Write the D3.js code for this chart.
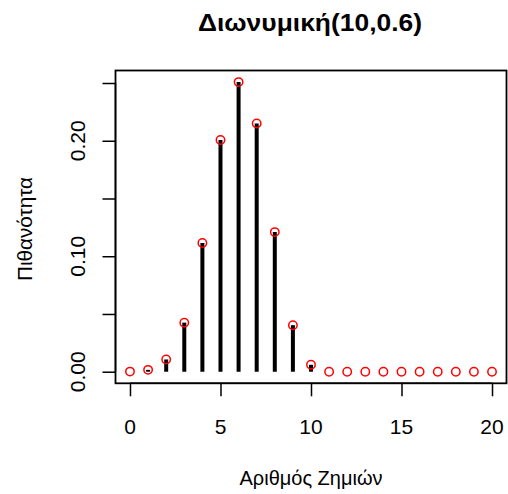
<!DOCTYPE html>
<html>
<head>
<meta charset="utf-8">
<script src="https://cdn.jsdelivr.net/npm/d3@7"></script>
<style>
  body { margin: 0; background: #fff; }
  svg text { font-family: "Liberation Sans", Arial, sans-serif; }
</style>
</head>
<body>
<div id="chart"></div>
<script>
// Number of losses 0..20 and binomial(10, 0.6) probabilities
const losses = d3.range(0, 21);
const probs = [0.0001, 0.0016, 0.0106, 0.0425, 0.1115, 0.2007, 0.2508, 0.2150, 0.1209, 0.0403, 0.0060,
  0, 0, 0, 0, 0, 0, 0, 0, 0, 0];
const xTicks = [0, 5, 10, 15, 20];
const yTicks = [0, 0.05, 0.10, 0.15, 0.20, 0.25];
const yLabels = { 0: "0.00", 0.1: "0.10", 0.2: "0.20" };

const width = 508, height = 494;
const plot = { left: 115.5, right: 506.5, top: 70.5, bottom: 383.3 };

const svg = d3.select("#chart").append("svg")
  .attr("width", width)
  .attr("height", height);

// R style 4% extension of the ranges
const xScale = d3.scaleLinear()
  .domain([-0.8, 20.8])
  .range([plot.left, plot.right]);

const ymax = d3.max(probs);
const yScale = d3.scaleLinear()
  .domain([-0.04 * ymax, 1.04 * ymax])
  .range([plot.bottom, plot.top]);

// x axis
const xAxis = svg.append("g")
  .attr("transform", `translate(0,${plot.bottom})`)
  .call(d3.axisBottom(xScale).tickValues(xTicks).tickSize(13).tickFormat(() => "").tickSizeOuter(0));
xAxis.select(".domain").attr("d", `M${xScale(0)},0H${xScale(20)}`).attr("stroke-width", 1.5);
xAxis.selectAll(".tick line").attr("stroke-width", 1.5);

svg.append("g").selectAll("text")
  .data(xTicks)
  .join("text")
  .attr("x", (d) => xScale(d))
  .attr("y", 434)
  .attr("text-anchor", "middle")
  .style("font-size", "21px")
  .text((d) => d);

// y axis
const yAxis = svg.append("g")
  .attr("transform", `translate(${plot.left},0)`)
  .call(d3.axisLeft(yScale).tickValues(yTicks).tickSize(13).tickFormat(() => "").tickSizeOuter(0));
yAxis.select(".domain").attr("d", `M0,${yScale(0)}V${yScale(0.25)}`).attr("stroke-width", 1.5);
yAxis.selectAll(".tick line").attr("stroke-width", 1.5);

svg.append("g").selectAll("text")
  .data(yTicks.filter((t) => yLabels[t]))
  .join("text")
  .attr("transform", (d) => `translate(77.5,${yScale(d)}) rotate(-90)`)
  .attr("text-anchor", "middle")
  .attr("dy", "0.35em")
  .style("font-size", "21px")
  .text((d) => yLabels[d]);

// plot box
svg.append("rect")
  .attr("x", plot.left)
  .attr("y", plot.top)
  .attr("width", plot.right - plot.left)
  .attr("height", plot.bottom - plot.top)
  .attr("fill", "none")
  .attr("stroke", "#000")
  .attr("stroke-width", 1.8);

// vertical probability lines
svg.append("g").selectAll("line")
  .data(losses.filter((d, i) => probs[i] > 0.001))
  .join("line")
  .attr("x1", (d) => xScale(d))
  .attr("x2", (d) => xScale(d))
  .attr("y1", yScale(0))
  .attr("y2", (d) => yScale(probs[d]))
  .attr("stroke", "#000")
  .attr("stroke-width", 4);

// red open circles
svg.append("g").selectAll("circle")
  .data(losses)
  .join("circle")
  .attr("cx", (d) => xScale(d))
  .attr("cy", (d, i) => yScale(probs[i]))
  .attr("r", 4.2)
  .attr("fill", "none")
  .attr("stroke", "#ff0000")
  .attr("stroke-width", 1.5);

// title and axis labels
svg.append("text")
  .attr("x", 310)
  .attr("y", 31)
  .attr("text-anchor", "middle")
  .attr("textLength", 224)
  .attr("lengthAdjust", "spacingAndGlyphs")
  .style("font-size", "23px")
  .style("font-weight", "bold")
  .text("Διωνυμική(10,0.6)");

svg.append("text")
  .attr("x", 311)
  .attr("y", 485)
  .attr("text-anchor", "middle")
  .attr("textLength", 143)
  .attr("lengthAdjust", "spacingAndGlyphs")
  .style("font-size", "21px")
  .text("Αριθμός Ζημιών");

svg.append("text")
  .attr("transform", `translate(25,229) rotate(-90)`)
  .attr("text-anchor", "middle")
  .attr("dy", "0.35em")
  .attr("textLength", 104)
  .attr("lengthAdjust", "spacingAndGlyphs")
  .style("font-size", "21px")
  .text("Πιθανότητα");
</script>
</body>
</html>
